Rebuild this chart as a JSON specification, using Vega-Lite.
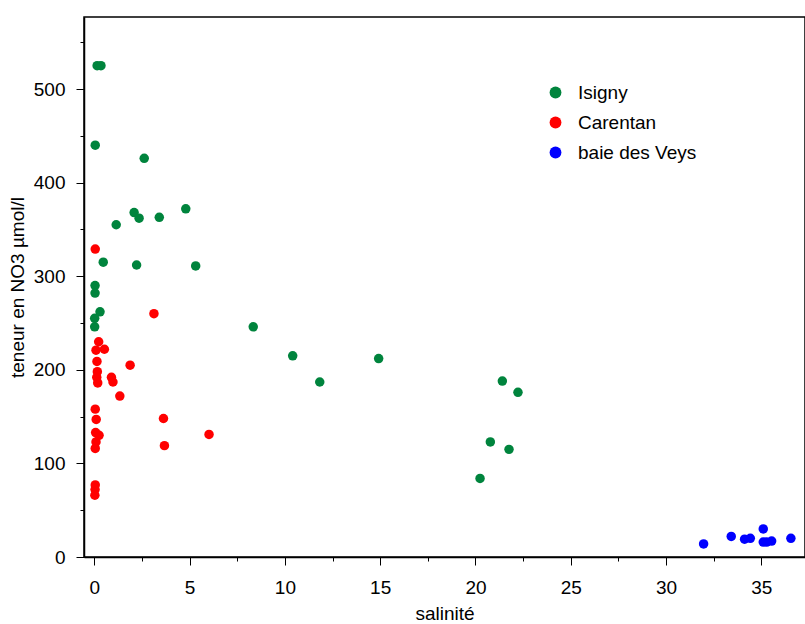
{
  "$schema": "https://vega.github.io/schema/vega-lite/v6.json",
  "width": 721,
  "height": 540,
  "autosize": {"type": "none"},
  "padding": {"left": 84, "top": 17, "right": 0, "bottom": 67},
  "background": "white",
  "config": {
    "view": {"stroke": "black", "strokeWidth": 1.5},
    "font": "Liberation Sans",
    "axis": {
      "grid": false,
      "domainColor": "black",
      "domainWidth": 1.5,
      "tickColor": "black",
      "tickWidth": 1,
      "labelFont": "Liberation Sans",
      "labelFontSize": 19,
      "labelColor": "black",
      "titleFont": "Liberation Sans",
      "titleFontSize": 19,
      "titleFontWeight": "normal",
      "titleColor": "black"
    }
  },
  "data": {
    "values": [
      {"site": "Isigny", "salinite": 0.15, "no3": 525},
      {"site": "Isigny", "salinite": 0.35, "no3": 525},
      {"site": "Isigny", "salinite": 0.05, "no3": 440},
      {"site": "Isigny", "salinite": 2.62, "no3": 426},
      {"site": "Isigny", "salinite": 1.15, "no3": 355},
      {"site": "Isigny", "salinite": 2.09, "no3": 368},
      {"site": "Isigny", "salinite": 2.35, "no3": 362},
      {"site": "Isigny", "salinite": 3.41, "no3": 363},
      {"site": "Isigny", "salinite": 4.8, "no3": 372},
      {"site": "Isigny", "salinite": 0.47, "no3": 315},
      {"site": "Isigny", "salinite": 2.22, "no3": 312},
      {"site": "Isigny", "salinite": 5.32, "no3": 311},
      {"site": "Isigny", "salinite": 0.04, "no3": 290},
      {"site": "Isigny", "salinite": 0.04, "no3": 282},
      {"site": "Isigny", "salinite": 0.3, "no3": 262},
      {"site": "Isigny", "salinite": 0.02, "no3": 255},
      {"site": "Isigny", "salinite": 0.02, "no3": 246},
      {"site": "Isigny", "salinite": 8.34, "no3": 246},
      {"site": "Isigny", "salinite": 10.41, "no3": 215},
      {"site": "Isigny", "salinite": 11.83, "no3": 187},
      {"site": "Isigny", "salinite": 14.92, "no3": 212},
      {"site": "Isigny", "salinite": 20.24, "no3": 84},
      {"site": "Isigny", "salinite": 20.78, "no3": 123},
      {"site": "Isigny", "salinite": 21.41, "no3": 188},
      {"site": "Isigny", "salinite": 21.76, "no3": 115},
      {"site": "Isigny", "salinite": 22.23, "no3": 176},
      {"site": "Carentan", "salinite": 0.05, "no3": 329},
      {"site": "Carentan", "salinite": 3.13, "no3": 260},
      {"site": "Carentan", "salinite": 0.23, "no3": 230},
      {"site": "Carentan", "salinite": 0.09, "no3": 221},
      {"site": "Carentan", "salinite": 0.53, "no3": 222},
      {"site": "Carentan", "salinite": 0.14, "no3": 209},
      {"site": "Carentan", "salinite": 1.88, "no3": 205},
      {"site": "Carentan", "salinite": 0.16, "no3": 198},
      {"site": "Carentan", "salinite": 0.13, "no3": 192},
      {"site": "Carentan", "salinite": 0.9, "no3": 192},
      {"site": "Carentan", "salinite": 0.98, "no3": 187},
      {"site": "Carentan", "salinite": 0.18, "no3": 186},
      {"site": "Carentan", "salinite": 1.34, "no3": 172},
      {"site": "Carentan", "salinite": 0.05, "no3": 158},
      {"site": "Carentan", "salinite": 0.1, "no3": 147},
      {"site": "Carentan", "salinite": 3.63, "no3": 148},
      {"site": "Carentan", "salinite": 0.07, "no3": 133},
      {"site": "Carentan", "salinite": 0.25, "no3": 130},
      {"site": "Carentan", "salinite": 6.02, "no3": 131},
      {"site": "Carentan", "salinite": 0.09, "no3": 123},
      {"site": "Carentan", "salinite": 3.68, "no3": 119},
      {"site": "Carentan", "salinite": 0.05, "no3": 116},
      {"site": "Carentan", "salinite": 0.05, "no3": 77},
      {"site": "Carentan", "salinite": 0.04, "no3": 72},
      {"site": "Carentan", "salinite": 0.03, "no3": 66},
      {"site": "baie des Veys", "salinite": 31.97, "no3": 14},
      {"site": "baie des Veys", "salinite": 33.42, "no3": 22},
      {"site": "baie des Veys", "salinite": 34.12, "no3": 19},
      {"site": "baie des Veys", "salinite": 34.42, "no3": 20},
      {"site": "baie des Veys", "salinite": 35.1, "no3": 30},
      {"site": "baie des Veys", "salinite": 35.1, "no3": 16},
      {"site": "baie des Veys", "salinite": 35.28, "no3": 16},
      {"site": "baie des Veys", "salinite": 35.54, "no3": 17},
      {"site": "baie des Veys", "salinite": 36.55, "no3": 20}
    ]
  },
  "mark": {"type": "point", "filled": true, "opacity": 1, "size": 90},
  "encoding": {
    "x": {
      "field": "salinite",
      "type": "quantitative",
      "title": "salinité",
      "scale": {"domain": [-0.54, 37.29], "nice": false, "zero": false},
      "axis": {
        "values": [0, 2.5, 5, 7.5, 10, 12.5, 15, 17.5, 20, 22.5, 25, 27.5, 30, 32.5, 35],
        "labelExpr": "datum.value % 5 === 0 ? datum.label : ''",
        "tickSize": {"condition": {"test": "datum.value % 5 === 0", "value": 8}, "value": 4},
        "labelPadding": 13,
        "titlePadding": 7
      }
    },
    "y": {
      "field": "no3",
      "type": "quantitative",
      "title": "teneur en NO3 µmol/l",
      "scale": {"domain": [0, 577], "nice": false},
      "axis": {
        "values": [0, 50, 100, 150, 200, 250, 300, 350, 400, 450, 500, 550],
        "labelExpr": "datum.value % 100 === 0 ? datum.label : ''",
        "tickSize": {"condition": {"test": "datum.value % 100 === 0", "value": 8}, "value": 4},
        "labelPadding": 11,
        "titlePadding": 6
      }
    },
    "color": {
      "field": "site",
      "type": "nominal",
      "scale": {
        "domain": ["Isigny", "Carentan", "baie des Veys"],
        "range": ["#00843d", "#ff0000", "#0000ff"]
      },
      "legend": {
        "title": null,
        "orient": "none",
        "legendX": 462,
        "legendY": 66,
        "symbolType": "circle",
        "symbolSize": 140,
        "symbolStrokeWidth": 0,
        "symbolOpacity": 1,
        "labelFont": "Liberation Sans",
        "labelFontSize": 19,
        "labelColor": "black",
        "labelOffset": 13,
        "rowPadding": 10
      }
    }
  }
}
